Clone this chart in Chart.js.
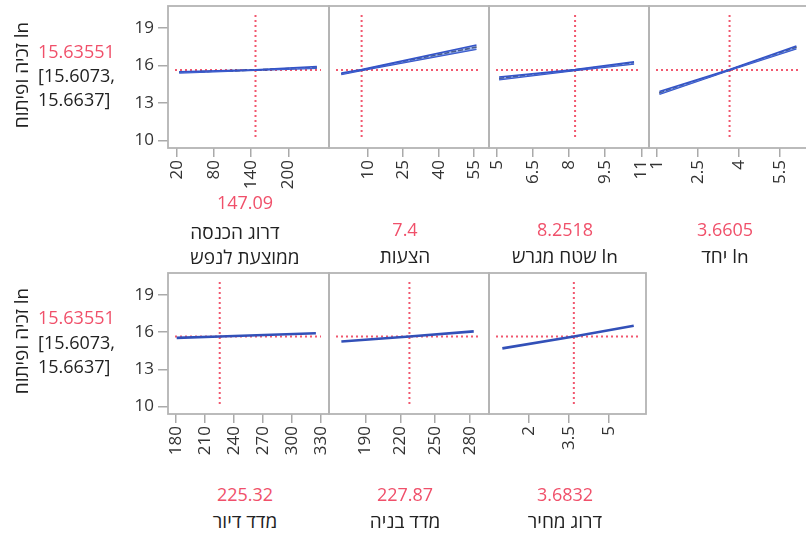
<!DOCTYPE html>
<html><head><meta charset="utf-8">
<script src="https://cdn.jsdelivr.net/npm/chart.js@4.4.1/dist/chart.umd.min.js"></script>
<style>
html,body{margin:0;padding:0;background:#fff;overflow:hidden;}
#wrap{position:relative;width:806px;height:538px;overflow:hidden;font-family:"Open Sans","DejaVu Sans",sans-serif;}
canvas{position:absolute;}
.t{position:absolute;white-space:nowrap;font-size:18px;line-height:1.2;}
.heb{font-size:19px;}
.red{color:#f0506a;}
.blk{color:#222;}
</style></head><body><div id="wrap"></div>
<script>
// ---------- data ----------
const responseName = "ln זכיה ופיתוח";
const predictedText = "15.63551";
const ciLowText = "[15.6073,";
const ciHighText = "15.6637]";
const currentY = 15.63551;
const yTicks = [10, 13, 16, 19];
const yRange = [9.4, 20.75];

const factorNames = [["דרוג הכנסה", "ממוצעת לנפש"], ["הצעות"], ["ln שטח מגרש"], ["ln יחד"], ["מדד דיור"], ["מדד בניה"], ["דרוג מחיר"]];
const currentX = [147.09, 7.4, 8.2518, 3.6605, 225.32, 227.87, 3.6832];
const currentXText = ["147.09", "7.4", "8.2518", "3.6605", "225.32", "227.87", "3.6832"];
const xTicks = [[20, 80, 140, 200], [10, 25, 40, 55], [5, 6.5, 8, 9.5, 11], [1, 2.5, 4, 5.5], [180, 210, 240, 270, 300, 330], [190, 220, 250, 280], [2, 3.5, 5]];
const xRanges = [[6, 265.6], [-6.4, 61.3], [4.68, 11.32], [0.72, 6.56], [171.7, 338.6], [158.3, 296.7], [0.5, 6.39]];
const curveX = [[24, 147.09, 246], [-1.2, 7.4, 56], [5.1, 8.2518, 10.7], [1.1, 3.6605, 6.1], [180.7, 225.32, 325], [169, 227.87, 283.5], [1.0, 3.6832, 5.93]];
const curveY = [[15.45, 15.636, 15.84], [15.34, 15.636, 17.47], [14.96, 15.636, 16.21], [13.8, 15.636, 17.45], [15.53, 15.636, 15.9], [15.24, 15.636, 16.05], [14.68, 15.636, 16.5]];
const bandLow = [[15.40, 15.616, 15.77], [15.28, 15.606, 17.30], [14.85, 15.606, 16.12], [13.69, 15.606, 17.34], null, null, null];
const bandHigh = [[15.50, 15.656, 15.91], [15.40, 15.666, 17.64], [15.07, 15.666, 16.30], [13.91, 15.666, 17.56], null, null, null];

// ---------- layout (styles only) ----------
const panelBoxes = [
  {left: 168, w: 161, row: 0}, {left: 329, w: 160, row: 0}, {left: 489, w: 160, row: 0}, {left: 649, w: 160, row: 0},
  {left: 168, w: 161, row: 1}, {left: 329, w: 160, row: 1}, {left: 489, w: 157, row: 1}
];
const rowTop = [6, 273], rowH = [142, 141];
const PAD = 5, XAX_H = 62, YAX_W = 68;
const FONT = '"Open Sans","DejaVu Sans",sans-serif';
Chart.defaults.font.family = FONT;
Chart.defaults.font.size = 17;

const wrap = document.getElementById('wrap');

const framePlugin = {
  id: 'frame',
  beforeDatasetsDraw(chart, args, opts) {
    const {ctx, chartArea: a, scales} = chart;
    const yp = scales.y.getPixelForValue(currentY);
    const xp = scales.x.getPixelForValue(opts.cx);
    ctx.save();
    ctx.strokeStyle = 'rgba(240,70,95,0.9)';
    ctx.lineWidth = 2;
    ctx.setLineDash([2, 3]);
    ctx.beginPath();
    ctx.moveTo(a.left + 7, yp); ctx.lineTo(a.right - 8, yp);
    ctx.moveTo(xp, a.top + 9); ctx.lineTo(xp, a.bottom - 8);
    ctx.stroke();
    ctx.restore();
  },
  afterDraw(chart) {
    const {ctx, chartArea: a} = chart;
    ctx.save();
    ctx.strokeStyle = '#b4b4b4';
    ctx.lineWidth = 1.8;
    ctx.strokeRect(a.left, a.top, a.right - a.left, a.bottom - a.top);
    ctx.restore();
  }
};

function addText(txt, cls, x, y, extra) {
  const d = document.createElement('div');
  d.className = 't ' + cls;
  d.textContent = txt;
  d.style.left = x + 'px';
  d.style.top = y + 'px';
  d.style.transform = 'translate(-50%,-50%)' + (extra || '');
  wrap.appendChild(d);
  return d;
}

panelBoxes.forEach((p, i) => {
  const hasY = (i === 0 || i === 4);
  const top = rowTop[p.row], h = rowH[p.row];
  const leftExtra = hasY ? YAX_W : PAD;
  const cv = document.createElement('canvas');
  const cw = leftExtra + p.w + PAD, ch = PAD + h + XAX_H;
  cv.width = cw; cv.height = ch;
  cv.style.left = (p.left - leftExtra) + 'px';
  cv.style.top = (top - PAD) + 'px';
  cv.style.width = cw + 'px'; cv.style.height = ch + 'px';
  wrap.appendChild(cv);

  const pts = (ys) => curveX[i].map((x, k) => ({x, y: ys[k]}));
  const datasets = [];
  if (bandLow[i]) {
    datasets.push({data: pts(bandLow[i]), borderColor: '#3454c8', borderWidth: 1.6, pointRadius: 0, fill: false, order: 2});
    datasets.push({data: pts(bandHigh[i]), borderColor: '#3454c8', borderWidth: 1.6, pointRadius: 0, fill: '-1', backgroundColor: 'rgba(110,145,230,0.6)', order: 1});
    datasets.push({data: pts(curveY[i]), borderColor: '#111', borderWidth: 1.6, borderDash: [5, 2], pointRadius: 0, fill: false, order: 3});
  } else {
    datasets.push({data: pts(curveY[i]), borderColor: '#3250b8', borderWidth: 2.6, pointRadius: 0, fill: false});
  }

  new Chart(cv, {
    type: 'line',
    data: {datasets},
    options: {
      responsive: false, animation: false, devicePixelRatio: 1,
      layout: {padding: {left: hasY ? 0 : PAD, right: PAD, top: PAD, bottom: 0}},
      plugins: {legend: {display: false}, tooltip: {enabled: false}, frame: {cx: currentX[i]}},
      elements: {line: {tension: 0}},
      scales: {
        x: {
          type: 'linear', min: xRanges[i][0], max: xRanges[i][1],
          afterBuildTicks: s => { s.ticks = xTicks[i].map(v => ({value: v})); },
          afterFit: s => { s.height = XAX_H; s.paddingLeft = 0; s.paddingRight = 0; },
          ticks: {minRotation: 90, maxRotation: 90, autoSkip: false, color: '#333', padding: 3, font: {size: 17},
                  callback: v => String(v)},
          grid: {drawOnChartArea: false, drawTicks: true, tickLength: 9, color: '#aaaaaa', lineWidth: 1.5},
          border: {display: false}
        },
        y: {
          type: 'linear', min: yRange[0], max: yRange[1], display: hasY,
          afterBuildTicks: s => { s.ticks = yTicks.map(v => ({value: v})); },
          afterFit: s => { if (hasY) s.width = YAX_W; s.paddingTop = 0; s.paddingBottom = 0; },
          ticks: {color: '#333', padding: 4, font: {size: 17}, callback: v => String(v)},
          grid: {drawOnChartArea: false, drawTicks: true, tickLength: 10, color: '#aaaaaa', lineWidth: 1.5},
          border: {display: false}
        }
      }
    },
    plugins: [framePlugin]
  });
});

// ---------- texts ----------
[[52, 76, 100, 75], [318, 343, 367, 341]].forEach(r => {
  const a = addText(predictedText, 'red', 0, r[0]); a.style.left = '38px'; a.style.transform = 'translate(0,-50%)';
  const b = addText(ciLowText, 'blk', 0, r[1]); b.style.left = '38px'; b.style.transform = 'translate(0,-50%)';
  const c = addText(ciHighText, 'blk', 0, r[2]); c.style.left = '38px'; c.style.transform = 'translate(0,-50%)';
  const v = addText(responseName, 'blk heb', 21, r[3], ' rotate(-90deg)'); v.dir = 'rtl';
});

const labelCx = [245, 405, 565, 725, 245, 405, 565];
labelCx.forEach((cx, i) => {
  const top = i < 4;
  const redY = i === 0 ? 203 : (top ? 230 : 495);
  addText(currentXText[i], 'red', cx, redY);
  const nameY = i === 0 ? 244.5 : (top ? 256 : 521);
  const d = addText('', 'blk heb', cx, nameY);
  d.dir = 'rtl';
  d.style.textAlign = 'left';
  factorNames[i].forEach(ln => {
    const s = document.createElement('div');
    s.textContent = ln;
    s.style.lineHeight = '25px';
    d.appendChild(s);
  });
});
</script></body></html>
